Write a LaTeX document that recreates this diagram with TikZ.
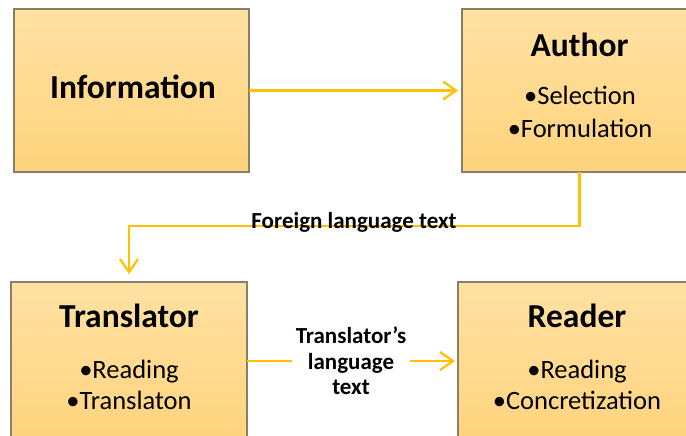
\documentclass[tikz,border=0pt]{standalone}
\usepackage{fontspec}
\setmainfont{Carlito}
\usetikzlibrary{arrows.meta}
\definecolor{boxtop}{HTML}{FFE1A3}
\definecolor{boxbot}{HTML}{FFD37C}
\definecolor{boxline}{HTML}{8B7E66}
\definecolor{arr}{HTML}{FFC000}
\begin{document}
\begin{tikzpicture}[x=1pt,y=-1pt,
  box/.style={draw=boxline, line width=1.3pt, top color=boxtop, bottom color=boxbot,
    minimum width=#1, minimum height=163pt, inner sep=0pt, outer sep=0pt},
  ttl/.style={anchor=base, inner sep=0pt, font=\fontsize{33.5}{38}\selectfont\bfseries},
  itm/.style={anchor=base, inner sep=0pt, font=\fontsize{26.5}{30}\selectfont},
  lab/.style={inner sep=0pt, align=center, font=\fontsize{23}{25.5}\selectfont\bfseries},
  conn/.style={draw=arr, line width=2.2pt, -{Straight Barb[length=13pt,width=18pt]}}]
\useasboundingbox (0,0) rectangle (686,436);
\clip (0,0) rectangle (686,436);
% boxes
\node[box=235pt] (info) at (131.5,90.5) {};
\node[box=235pt] (author) at (579.5,90.5) {};
\node[box=236pt] (trans) at (129,363.5) {};
\node[box=238pt] (reader) at (577,363.5) {};
% texts
\node[ttl] (infot) at (133,99) {Information};
\node[ttl] (autht) at (579.5,57) {Author};
\node[itm] (auth1) at (580,105) {•Selection};
\node[itm] (auth2) at (580,138) {•Formulation};
\node[ttl] (transt) at (129,327) {Translator};
\node[itm] (trans1) at (129,378) {•Reading};
\node[itm] (trans2) at (129,409) {•Translaton};
\node[ttl] (readt) at (577,327) {Reader};
\node[itm] (read1) at (577,378) {•Reading};
\node[itm] (read2) at (577,409) {•Concretization};
% connectors
\draw[conn] (info.east) -- ([xshift=-4pt]author.west);
\coordinate (bend) at (354,226);
\draw[conn] (author.south) |- (bend) -| ([yshift=8pt]trans.north);
\node[lab, anchor=base] (foreign) at (354,228) {Foreign language text};
\draw[conn] ([yshift=2.5pt]trans.east) -- node[lab, fill=white, inner xsep=4pt, inner ysep=2pt] (tlt) {Translator's\\language\\text} ([xshift=-3pt,yshift=2.5pt]reader.west);
\end{tikzpicture}
\end{document}
